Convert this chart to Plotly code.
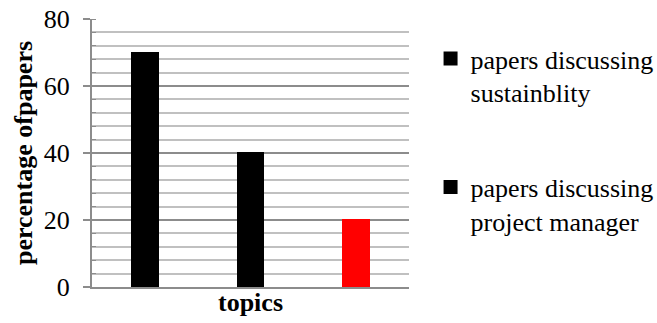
import plotly.graph_objects as go

# Bars grouped under the single "topics" category
series_names = ["papers discussing<br>sustainblity", "papers discussing<br>project manager", ""]
series_values = [70, 40, 20]
series_colors = ["#000000", "#000000", "#ff0000"]
positions = [0, 1, 2]
y_ticks = [0, 20, 40, 60, 80]

fig = go.Figure()
for i, (name, val, col) in enumerate(zip(series_names, series_values, series_colors)):
    fig.add_trace(go.Bar(
        x=[positions[i]], y=[val], name=name,
        marker=dict(color=col, line=dict(color=col, width=2)),
        width=0.24, showlegend=bool(name), legendgroup=f"g{i}",
    ))

font = dict(family="Liberation Serif", color="#000000")

fig.update_layout(
    width=657, height=323,
    margin=dict(l=92, r=248, t=19, b=36, autoexpand=False),
    plot_bgcolor="white", paper_bgcolor="white",
    font=dict(size=26, **font),
    bargap=0,
    legend=dict(
        x=1.068, y=0.94, xanchor="left", yanchor="top",
        font=dict(size=26, **font), valign="top",
        tracegroupgap=58, traceorder="grouped",
        itemwidth=30, bgcolor="rgba(0,0,0,0)",
    ),
    xaxis=dict(
        range=[-0.5, 2.5], showticklabels=False, ticks="",
        showgrid=False, zeroline=False,
        showline=True, linecolor="#8c8c8c", linewidth=2,
        title=dict(text="<b>topics</b>", font=dict(size=26, **font), standoff=5),
    ),
    yaxis=dict(
        range=[0, 80], tickvals=y_ticks, ticks="outside", ticklen=7,
        tickcolor="#8c8c8c", tickwidth=2, ticklabelstandoff=8,
        showline=True, linecolor="#8c8c8c", linewidth=2,
        showgrid=True, gridcolor="#8c8c8c", gridwidth=1.5,
        zeroline=False,
        tickfont=dict(size=26, **font),
        minor=dict(dtick=4, showgrid=True, gridcolor="#c0c0c0", gridwidth=1.5,
                   ticks="inside", ticklen=4, tickcolor="#8c8c8c", tickwidth=1),
        title=dict(text="<b>percentage ofpapers</b>", font=dict(size=26, **font), standoff=4),
    ),
)

fig.write_html("out.html")
